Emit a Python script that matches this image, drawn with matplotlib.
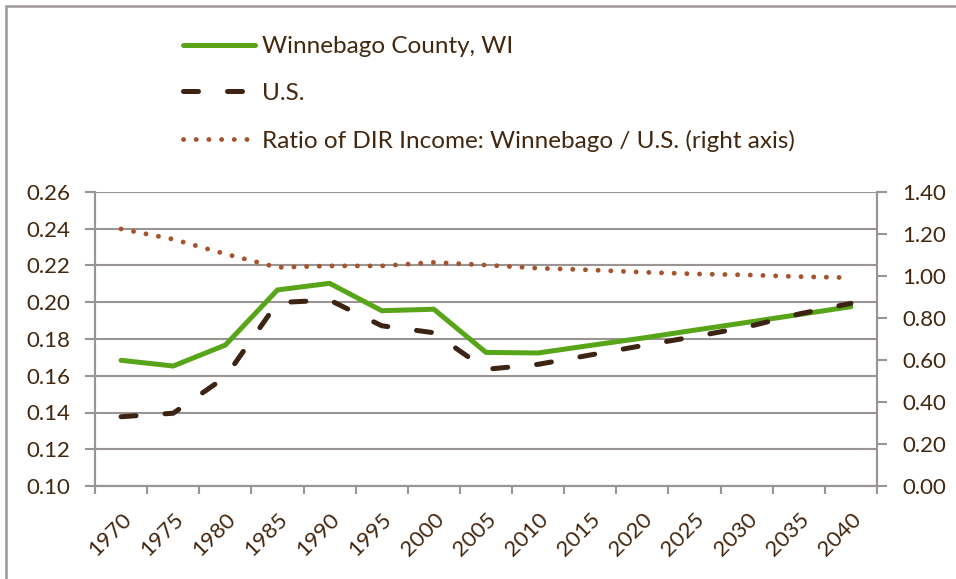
import matplotlib.pyplot as plt
import matplotlib.patches as patches
import matplotlib.transforms as mtrans
import numpy as np

years = ["1970", "1975", "1980", "1985", "1990", "1995", "2000", "2005",
         "2010", "2015", "2020", "2025", "2030", "2035", "2040"]
winnebago = [0.1684, 0.1653, 0.1767, 0.2067, 0.2103, 0.1954, 0.1962, 0.1727,
             0.1724, 0.1765, 0.1805, 0.1848, 0.1890, 0.1933, 0.1976]
us = [0.1377, 0.1396, 0.1593, 0.1998, 0.2012, 0.1872, 0.1834, 0.1635,
      0.1662, 0.1713, 0.1764, 0.1813, 0.1865, 0.1936, 0.1994]
ratio = [1.224, 1.175, 1.105, 1.041, 1.048, 1.048, 1.065, 1.052,
         1.037, 1.029, 1.018, 1.010, 1.005, 0.997, 0.992]

txt = "#43270f"
axcol = "#9a9593"
plt.rcParams['font.family'] = ['Lato', 'DejaVu Sans']
plt.rcParams['font.size'] = 16

fig = plt.figure(figsize=(9.56, 5.79), dpi=100)
ax = fig.add_axes([95/956, 93/579, 782/956, 294/579])
ax2 = ax.twinx()

x = np.arange(len(years))
l1, = ax.plot(x, winnebago, color="#58a51a", lw=3.6, solid_capstyle='round',
              solid_joinstyle='miter', label="Winnebago County, WI", zorder=3)
l2, = ax.plot(x, us, color="#3d2314", lw=3.6, linestyle=(0, (3, 5.8)),
              dash_capstyle='round', label="U.S.", zorder=4)
l3, = ax2.plot(x, ratio, color="#a4532b", lw=3.5, linestyle=(0, (0.01, 2.6)),
               dash_capstyle='round',
               label="Ratio of DIR Income: Winnebago / U.S. (right axis)")

ax.set_xlim(-0.5, 14.5)
ax.set_ylim(0.10, 0.26)
ax.set_yticks(np.arange(0.10, 0.261, 0.02))
ax.set_yticklabels([f"{v:.2f}" for v in np.arange(0.10, 0.261, 0.02)])
ax2.set_ylim(0, 1.4)
ax2.set_yticks(np.arange(0, 1.41, 0.2))
ax2.set_yticklabels([f"{v:.2f}" for v in np.arange(0, 1.41, 0.2)])

ax.set_xticks(np.arange(-0.5, 15, 1))
ax.set_xticklabels([])
ax.set_xticks(x, minor=True)
labels = ax.set_xticklabels(years, minor=True, rotation=45, ha='right', va='top',
                            rotation_mode='anchor')
shift = mtrans.ScaledTranslation(2/100, 0, fig.dpi_scale_trans)
for lab in labels:
    lab.set_transform(lab.get_transform() + shift)
ax.tick_params(axis='x', which='major', length=6, width=1.5, color=axcol)
ax.tick_params(axis='x', which='minor', length=0, pad=17, colors=txt)
ax.tick_params(axis='y', length=7, width=1.5, color=axcol, labelcolor=txt, pad=11)
ax2.tick_params(axis='y', length=7, width=1.5, color=axcol, labelcolor=txt, pad=11)

ax.grid(axis='y', color=axcol, lw=1.5)
ax.set_axisbelow(True)
for a in (ax, ax2):
    a.spines['top'].set_visible(False)
    for s in ('left', 'right', 'bottom'):
        a.spines[s].set_color(axcol)
        a.spines[s].set_linewidth(1.5)

fig.legend(handles=[l1, l2, l3], loc='center left', bbox_to_anchor=(183/956, 1 - 94/579),
           frameon=False, handlelength=2.95, handletextpad=0.3, labelspacing=1.05,
           borderpad=0, borderaxespad=0, labelcolor=txt, fontsize=17.5)

fig.patches.append(patches.Rectangle((6/956, -0.1), 1.2, 1.1 - 6/579,
                                     transform=fig.transFigure, fill=False,
                                     edgecolor="#9e9896", lw=1.8))

fig.savefig("out.png", dpi=100)
